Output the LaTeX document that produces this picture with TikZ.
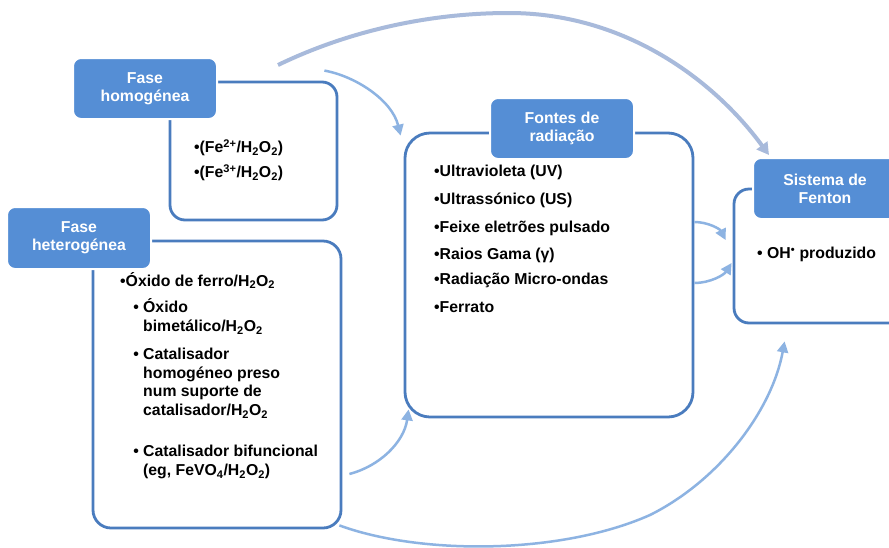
\documentclass[tikz,border=0pt]{standalone}
\usepackage{fontspec}
\setmainfont{Liberation Sans}
\usetikzlibrary{arrows.meta,calc}
\definecolor{hdrblue}{HTML}{558ED5}
\definecolor{boxblue}{HTML}{4A7CBE}
\definecolor{arrblue}{HTML}{8DB3E2}
\definecolor{arcgray}{HTML}{A8BADB}
\begin{document}
\begin{tikzpicture}[x=1pt,y=-1pt,
  font=\fontsize{15.8}{18.8}\selectfont\bfseries,
  box/.style={draw=boxblue, line width=2.8pt, fill=white, inner sep=0pt},
  hdr/.style={fill=hdrblue, draw=white, line width=2pt, rounded corners=8pt, text=white,
    align=center, inner sep=0pt, font=\fontsize{15.8}{18}\selectfont\bfseries},
  item/.style={anchor=base west, inner sep=0pt, align=left},
  conn/.style={draw=arrblue, line width=2.5pt, -{Triangle[length=11pt,width=11pt]}},
  bigarc/.style={draw=arcgray, line width=4pt, -{Triangle[length=12pt,width=13pt]}}]
\useasboundingbox (0,0) rectangle (889,547);
\fill[white] (0,0) rectangle (889,547);

% boxes
\node[box, rounded corners=15pt, minimum width=167pt, minimum height=138pt] (homog) at (253.5,151) {};
\node[box, rounded corners=18pt, minimum width=248pt, minimum height=287pt] (hetero) at (217,384.5) {};
\node[box, rounded corners=25pt, minimum width=288pt, minimum height=284pt] (fontes) at (549,275) {};
\node[box, rounded corners=15pt, minimum width=190pt, minimum height=134pt] (fenton) at (829,256) {};

% headers
\node[hdr, minimum width=144pt, minimum height=61pt] (homoghdr) at (145,88.5) {Fase\\homogénea};
\node[hdr, minimum width=144pt, minimum height=62pt] (heterohdr) at (79,238) {Fase\\heterogénea};
\node[hdr, minimum width=144pt, minimum height=61pt] (fonteshdr) at (562,128.5) {Fontes de\\radiação};
\node[hdr, minimum width=144pt, minimum height=61pt] (fentonhdr) at (825,188.5) {Sistema de\\Fenton};

% items homogeneous
\node[item] (i1) at (194,152.5) {•(Fe\textsuperscript{2+}/H\textsubscript{2}O\textsubscript{2})};
\node[item] (i2) at (194,177.5) {•(Fe\textsuperscript{3+}/H\textsubscript{2}O\textsubscript{2})};

% items heterogeneous (base anchor = baseline of last line)
\node[item] (h1) at (120,286) {•Óxido de ferro/H\textsubscript{2}O\textsubscript{2}};
\node[item, font=\fontsize{15.8}{19}\selectfont\bfseries] (h2) at (143,331.5) {\llap{•\ }Óxido\\bimetálico/H\textsubscript{2}O\textsubscript{2}};
\node[item, font=\fontsize{15.8}{18.7}\selectfont\bfseries] (h3) at (143,415.6) {\llap{•\ }Catalisador\\homogéneo preso\\num suporte de\\catalisador/H\textsubscript{2}O\textsubscript{2}};
\node[item, font=\fontsize{15.8}{19}\selectfont\bfseries] (h4) at (143,475.5) {\llap{•\ }Catalisador bifuncional\\(eg, FeVO\textsubscript{4}/H\textsubscript{2}O\textsubscript{2})};

% items radiation
\node[item] (r1) at (434,176.5) {•Ultravioleta (UV)};
\node[item] (r2) at (434,204.5) {•Ultrassónico (US)};
\node[item] (r3) at (434,232.5) {•Feixe eletrões pulsado};
\node[item] (r4) at (434,259.5) {•Raios Gama (γ)};
\node[item] (r5) at (434,284.5) {•Radiação Micro-ondas};
\node[item] (r6) at (434,312.5) {•Ferrato};

% item Fenton
\node[item] (f1) at (757,258.5) {• OH\textsuperscript{•} produzido};

% connector start points
\coordinate (sTop) at ($(homoghdr.north east)+(60,8)$);
\coordinate (sHom) at ($(homog.north east)+(-14,-10)$);
\coordinate (sFonA) at ($(fontes.east)+(0,-53)$);
\coordinate (sFonB) at ($(fontes.east)+(0,8)$);
\coordinate (sHet) at ($(hetero.east)+(7,89.5)$);
\coordinate (sBot) at ($(hetero.south east)+(-3,-4)$);
\coordinate (eBot) at ($(fenton.south west)+(52,17)$);

% connectors
\draw[bigarc] (sTop) .. controls (340,35) and (420,13) .. (509,13)
  .. controls (620,13) and (710,75) .. ($(fentonhdr.north west)+(17,-2)$);
\draw[conn] (sHom) .. controls (355,76) and (392,100) .. ($(fontes.north west)+(-3,4)$);
\draw[conn] (sFonA) .. controls (708,222) and (720,229) .. ($(fenton.west)+(-7,-16)$);
\draw[conn] (sFonB) .. controls (710,283) and (724,275) .. ($(fenton.west)+(-1,7)$);
\draw[conn] (sHet) .. controls (380,466) and (404,442) .. ($(fontes.south west)+(5,-9)$);
\draw[conn] (sBot) .. controls (420,555) and (560,555) .. (650,515) .. controls (720,480) and (772,410) .. (eBot);
\end{tikzpicture}
\end{document}
